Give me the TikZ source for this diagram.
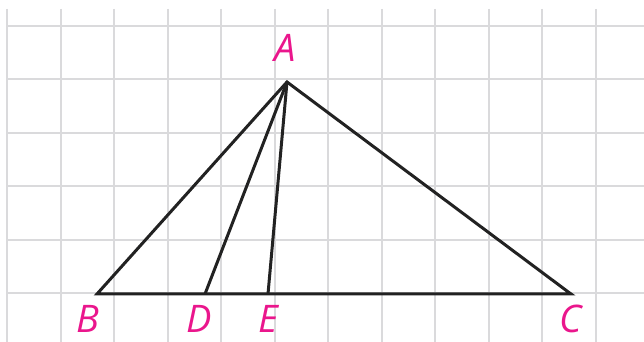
\documentclass[tikz,border=0pt]{standalone}
\usepackage{fontspec}
\usepackage{tikz}
\usetikzlibrary{positioning, calc}
\newfontfamily\ptfont{Open Sans}
\definecolor{gridgray}{RGB}{218,218,220}
\definecolor{labelpink}{RGB}{234,22,140}
\definecolor{edgeblack}{RGB}{34,34,34}

\begin{document}
\begin{tikzpicture}[
    x=0.5pt, y=-0.5pt,
    % Line styles
    gridline/.style={draw=gridgray, line width=1pt},
    edge/.style={draw=edgeblack, line width=1.5pt, line join=miter},
    % Label style
    ptlabel/.style={
      text=labelpink, inner sep=0pt, anchor=base,
      font=\ptfont\itshape\fontsize{19}{19}\selectfont
    }
  ]
  \useasboundingbox (0,0) rectangle (644,342);

  % ============ Grid ============
  \foreach \i in {0,...,11}
    \draw[gridline] ({7+53.5*\i},9) -- ({7+53.5*\i},342);
  \foreach \j in {0,...,5}
    \draw[gridline] (7,{293-53.4*\j}) -- (644,{293-53.4*\j});

  % ============ Points ============
  \coordinate (A) at (287,82);
  \coordinate (B) at (97,294);
  \coordinate (D) at (205,294);
  \coordinate (E) at (268,294);
  \coordinate (C) at (571,294);

  % ============ Triangle ============
  \draw[edge] (A) -- (B) -- (C) -- cycle;
  \draw[edge] (A) -- (D);
  \draw[edge] (A) -- (E);

  % ============ Labels ============
  \node[ptlabel] (lA) at (285,62) {A};
  \node[ptlabel] (lB) at (88,333) {B};
  \node[ptlabel] (lD) at (199,333) {D};
  \node[ptlabel] (lE) at (268,333) {E};
  \node[ptlabel] (lC) at (571,333) {C};

\end{tikzpicture}
\end{document}
